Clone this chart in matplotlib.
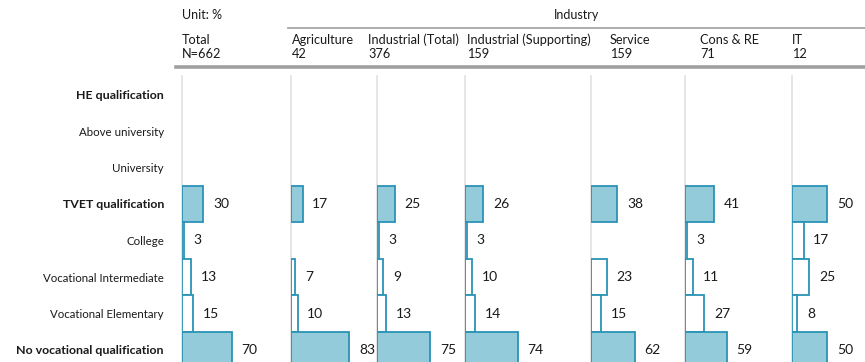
import numpy as np
import matplotlib
matplotlib.use("Agg")
import matplotlib.pyplot as plt

# Qualification categories (top to bottom) and which ones are group headers
categories = [
    "HE qualification",
    "Above university",
    "University",
    "TVET qualification",
    "College",
    "Vocational Intermediate",
    "Vocational Elementary",
    "No vocational qualification",
]
is_group = [True, False, False, True, False, False, False, True]

# Column groups and sample sizes
columns = ["Total", "Agriculture", "Industrial (Total)", "Industrial (Supporting)",
           "Service", "Cons & RE", "IT"]
sample_sizes = ["N=662", "42", "376", "159", "159", "71", "12"]

# Shares (%) per column, in the order of `categories`; None = no value
total = [None, None, None, 30, 3, 13, 15, 70]
agriculture = [None, None, None, 17, None, 7, 10, 83]
industrial_total = [None, None, None, 25, 3, 9, 13, 75]
industrial_supporting = [None, None, None, 26, 3, 10, 14, 74]
service = [None, None, None, 38, None, 23, 15, 62]
cons_re = [None, None, None, 41, 3, 11, 27, 59]
it = [None, None, None, 50, 17, 25, 8, 50]
series = [total, agriculture, industrial_total, industrial_supporting,
          service, cons_re, it]

FIG_W, FIG_H = 865, 362
DPI = 100
fig = plt.figure(figsize=(FIG_W / DPI, FIG_H / DPI), dpi=DPI)
fig.patch.set_facecolor("white")
plt.rcParams["font.family"] = ["Lato", "DejaVu Sans"]

fill_col = "#93CBDB"
edge_col = "#2A93B5"
text_col = "#1a1a1a"

# panel geometry in pixels
panel_left = [182, 290.5, 377, 465, 590.5, 685, 791.5]
panel_width = 95
px_per_unit = 0.71
row_h = 36.5
first_center = 94.5
n_rows = len(categories)
y_top = first_center - row_h / 2
y_bot = y_top + row_h * n_rows


def fx(px):
    return px / FIG_W


def fy(py):
    return 1 - py / FIG_H


axes = []
for i, (vals, left) in enumerate(zip(series, panel_left)):
    ax = fig.add_axes([fx(left), fy(y_bot), panel_width / FIG_W,
                       (y_bot - y_top) / FIG_H])
    ax.set_xlim(0, panel_width / px_per_unit)
    ax.set_ylim(n_rows - 0.5, -0.5)
    for j, v in enumerate(vals):
        if v is None:
            continue
        ax.barh(j, v, height=1.0, left=0,
                color=fill_col if is_group[j] else "white",
                edgecolor=edge_col, linewidth=1.3, zorder=3)
        ax.annotate(f"{v}", xy=(v, j), xytext=(7, 0),
                    textcoords="offset points", va="center", ha="left",
                    fontsize=10, color=text_col, annotation_clip=False)
    for side in ["top", "right", "bottom"]:
        ax.spines[side].set_visible(False)
    ax.spines["left"].set_color("#e0e0e0")
    ax.spines["left"].set_linewidth(1.2)
    ax.set_xticks([])
    ax.set_yticks([])
    ax.patch.set_alpha(0)
    axes.append(ax)

# category labels on the first panel
ax0 = axes[0]
ax0.set_yticks(range(n_rows))
ax0.set_yticklabels(categories)
ax0.tick_params(axis="y", length=0, pad=13)
for lbl, grp in zip(ax0.get_yticklabels(), is_group):
    if grp:
        lbl.set_fontweight("bold")
        lbl.set_fontsize(8.9)
    else:
        lbl.set_fontsize(8.3)
    lbl.set_color(text_col)

# header
header_x = [182, 292, 368, 467, 610, 700, 792]
fig.text(fx(182), fy(15), "Unit: %", fontsize=9, va="center", ha="left",
         color=text_col)
fig.text(fx(577), fy(15), "Industry", fontsize=9, va="center", ha="center",
         color=text_col)
for name, n, x in zip(columns, sample_sizes, header_x):
    fig.text(fx(x), fy(40), name, fontsize=9.2, va="center", ha="left",
             color=text_col)
    fig.text(fx(x), fy(54), n, fontsize=9.2, va="center", ha="left",
             color=text_col)

fig.add_artist(plt.Line2D([fx(288), fx(865)], [fy(28), fy(28)],
                          color="#a6a6a6", linewidth=1.3))
fig.add_artist(plt.Line2D([fx(176), fx(865)], [fy(67), fy(67)],
                          color="#a0a0a0", linewidth=2.6))

fig.savefig("out.png", dpi=DPI, facecolor="white")
